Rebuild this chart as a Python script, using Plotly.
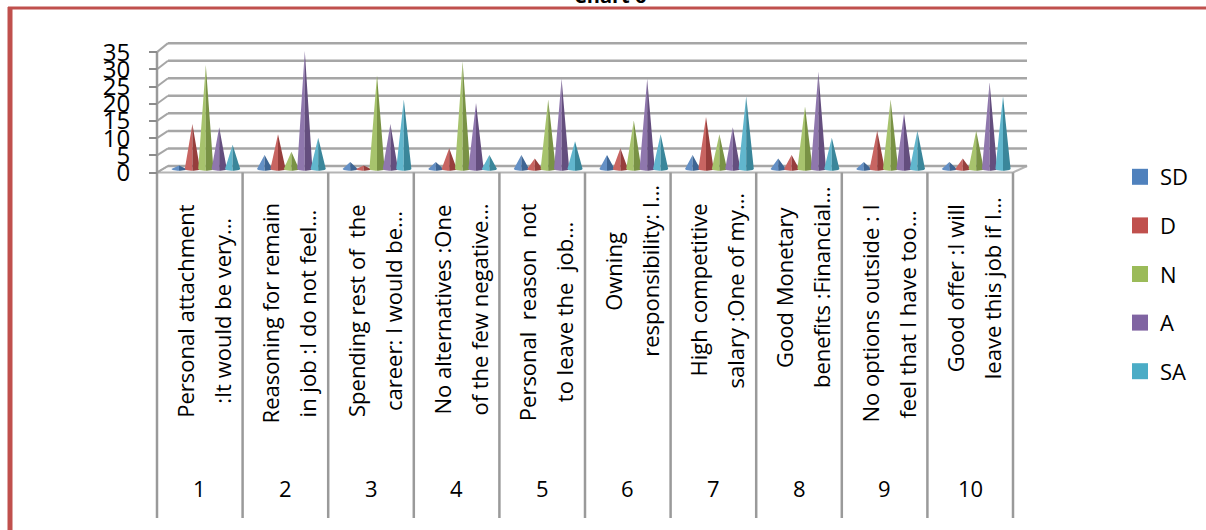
import numpy as np
import plotly.graph_objects as go

# ---------------- data ----------------
categories = ["1", "2", "3", "4", "5", "6", "7", "8", "9", "10"]
label_line1 = ["Personal attachment", "Reasoning for remain", "Spending rest of  the",
               "No alternatives :One", "Personal  reason  not", "Owning",
               "High competitive", "Good Monetary", "No options outside : I",
               "Good offer :I will"]
label_line2 = [":It would be very…", "in job :I do not feel…", "career: I would be…",
               "of the few negative…", "to leave the  job…", "responsibility: I…",
               "salary :One of my…", "benefits :Financial…", "feel that I have too…",
               "leave this job if I…"]
series_names = ["SD", "D", "N", "A", "SA"]
sd = [1, 4, 2, 2, 4, 4, 4, 3, 2, 2]
d = [13, 10, 1, 6, 3, 6, 15, 4, 11, 3]
n = [30, 5, 27, 31, 20, 14, 10, 18, 20, 11]
a = [12, 34, 13, 19, 26, 26, 12, 28, 16, 25]
sa = [7, 9, 20, 4, 8, 10, 21, 9, 11, 21]
series_values = [sd, d, n, a, sa]
y_ticks = [0, 5, 10, 15, 20, 25, 30, 35]

# ---------------- styling / layout geometry (pixels) ----------------
W, H = 1206, 530
base_colors = ["#4f81bd", "#c0504d", "#9bbb59", "#8064a2", "#4bacc6"]
FONT = "Open Sans"

# front frame
FX0, CW = 157.0, 85.6           # left edge of category area, width per category
FY0, FS = 172.5, 3.44           # front axis zero pixel, px per unit
# back wall
BX0, BX1 = 168.0, 1027.0
BY0, BS = 166.0, 3.51
# mid depth (where cones stand)
MX0 = 163.0
MY0, MS = 169.0, 3.47
# category-label vertical centres (px)
label_cy = [311, 313, 311, 310, 312, 271, 290, 287, 314, 288]


def fx(p):
    return p / W


def fy(p):
    return 1 - p / H


def mix(hexc, other, t):
    hexc = hexc.lstrip("#")
    r, g, b = (int(hexc[i:i + 2], 16) for i in (0, 2, 4))
    o = 255 if other == "white" else 0
    r, g, b = (round(c + (o - c) * t) for c in (r, g, b))
    return f"rgb({r},{g},{b})"


fig = go.Figure()

slot = 13.4 / CW
hw = 7.6 / CW
e = 1.8 / MS
tt = np.linspace(0, 1, 7)

for j, (name, vals) in enumerate(zip(series_names, series_values)):
    lx, ly, rx, ry = [], [], [], []
    for i, v in enumerate(vals):
        cx = i + 0.5 + (j - 2) * slot
        by = list(-e * np.sqrt(1 - tt ** 2))
        lx += [cx] + list(cx - hw * tt) + [cx, None]
        ly += [v] + by + [v, None]
        rx += [cx] + list(cx + hw * tt) + [cx, None]
        ry += [v] + by + [v, None]
    fig.add_trace(go.Scatter(x=lx, y=ly, mode="lines", fill="toself",
                             fillcolor=mix(base_colors[j], "white", 0.12),
                             line=dict(width=0), showlegend=False, hoverinfo="skip"))
    fig.add_trace(go.Scatter(x=rx, y=ry, mode="lines", fill="toself",
                             fillcolor=mix(base_colors[j], "black", 0.22),
                             line=dict(width=0), showlegend=False, hoverinfo="skip"))

for j, name in enumerate(series_names):
    fig.add_trace(go.Scatter(x=[None], y=[None], mode="markers", name=name,
                             legendgroup=name,
                             marker=dict(symbol="square", size=16, color=base_colors[j])))

# dummy trace so the front value axis is drawn
fig.add_trace(go.Scatter(x=[None], y=[None], yaxis="y2", showlegend=False, hoverinfo="skip"))

shapes = []
grid_col = "#a6a6a6"
# floor
shapes.append(dict(type="path", xref="paper", yref="paper", layer="below",
                   path=f"M {fx(FX0)},{fy(FY0)} L {fx(FX0 + 10 * CW)},{fy(FY0)} "
                        f"L {fx(BX1)},{fy(BY0)} L {fx(BX0)},{fy(BY0)} Z",
                   fillcolor="#fbfbfb", line=dict(color="#b4b4b4", width=2)))
# back wall gridlines and left wall diagonals
for v in y_ticks:
    shapes.append(dict(type="line", xref="paper", yref="paper", layer="below",
                       x0=fx(BX0), x1=fx(BX1), y0=fy(BY0 - BS * v), y1=fy(BY0 - BS * v),
                       line=dict(color=grid_col, width=2.5)))
    shapes.append(dict(type="line", xref="paper", yref="paper", layer="below",
                       x0=fx(FX0), x1=fx(BX0), y0=fy(FY0 - FS * v), y1=fy(BY0 - BS * v),
                       line=dict(color=grid_col, width=2)))
# front value axis line and category separators
shapes.append(dict(type="line", xref="paper", yref="paper", layer="below",
                   x0=fx(FX0), x1=fx(FX0), y0=fy(FY0 - FS * 35), y1=fy(518),
                   line=dict(color="#9a9a9a", width=2.5)))
for k in range(1, 11):
    xk = FX0 + CW * k
    shapes.append(dict(type="line", xref="paper", yref="paper", layer="below",
                       x0=fx(xk), x1=fx(xk), y0=fy(FY0), y1=fy(518),
                       line=dict(color="#9a9a9a", width=2.5)))
# outer red frame
shapes.append(dict(type="line", xref="paper", yref="paper", x0=fx(10), x1=fx(10),
                   y0=fy(7), y1=fy(545), line=dict(color="#c0504d", width=5)))
shapes.append(dict(type="line", xref="paper", yref="paper", x0=fx(8), x1=fx(1215),
                   y0=fy(8), y1=fy(8), line=dict(color="#c0504d", width=3)))

annotations = []
for i in range(10):
    cx = FX0 + CW * (i + 0.5)
    annotations.append(dict(xref="paper", yref="paper", x=fx(cx - 15), y=fy(label_cy[i]),
                            text=label_line1[i], textangle=-90, showarrow=False,
                            xanchor="center", yanchor="middle",
                            font=dict(family=FONT, size=22, color="#000")))
    annotations.append(dict(xref="paper", yref="paper", x=fx(cx + 22), y=fy(label_cy[i]),
                            text=label_line2[i], textangle=-90, showarrow=False,
                            xanchor="center", yanchor="middle",
                            font=dict(family=FONT, size=22, color="#000")))
    annotations.append(dict(xref="paper", yref="paper", x=fx(cx), y=fy(488),
                            text=categories[i], showarrow=False,
                            xanchor="center", yanchor="middle",
                            font=dict(family=FONT, size=22, color="#000")))
annotations.append(dict(xref="paper", yref="paper", x=fx(610), y=fy(11), yanchor="bottom",
                        text="<b>Chart 6</b>", showarrow=False,
                        font=dict(family=FONT, size=20, color="#000")))

fig.update_layout(
    width=W, height=H, autosize=False,
    margin=dict(l=0, r=0, t=0, b=0),
    paper_bgcolor="white", plot_bgcolor="rgba(0,0,0,0)",
    xaxis=dict(domain=[0, 1], range=[-MX0 / CW, (W - MX0) / CW], visible=False, fixedrange=True),
    yaxis=dict(domain=[0, 1], range=[(MY0 - H) / MS, MY0 / MS], visible=False, fixedrange=True),
    yaxis2=dict(overlaying="y", anchor="free", position=fx(FX0), side="left",
                range=[(FY0 - H) / FS, FY0 / FS], tickvals=y_ticks,
                ticks="outside", ticklen=8, tickwidth=2, tickcolor="#8c8c8c",
                showline=False, showgrid=False, zeroline=False, ticklabelstandoff=14,
                tickfont=dict(family=FONT, size=24, color="#000"), fixedrange=True),
    legend=dict(x=fx(1120), y=fy(156), xanchor="left", yanchor="top",
                font=dict(family=FONT, size=22, color="#000"),
                tracegroupgap=17, itemwidth=30, bgcolor="rgba(0,0,0,0)"),
    shapes=shapes, annotations=annotations,
    showlegend=True,
)

fig.write_html("out.html")
